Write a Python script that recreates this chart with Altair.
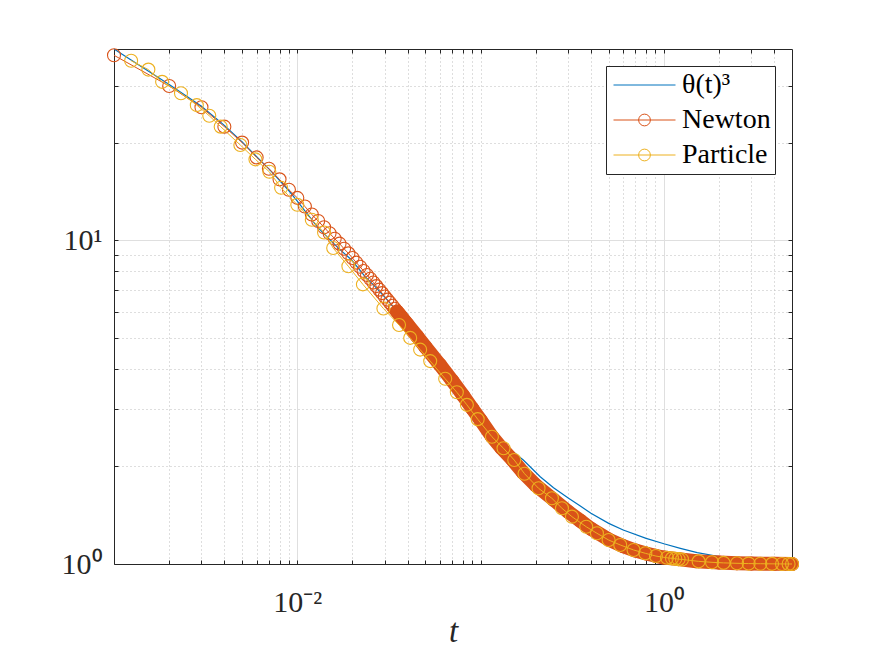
import altair as alt
import pandas as pd

# ---------------- data ----------------
series_names = ["θ(t)\u00b3", "Newton", "Particle"]
series_colors = ["#0072BD", "#D95319", "#EDB120"]

theta_t = [0.001, 0.002, 0.003, 0.004, 0.005, 0.006, 0.007, 0.008, 0.009, 0.010,
           0.013, 0.0168, 0.0198, 0.0235, 0.0266, 0.032, 0.0364, 0.045, 0.0627, 0.0897,
           0.1, 0.113, 0.139, 0.171, 0.2115, 0.25, 0.302, 0.35, 0.40, 0.50, 0.60, 0.80,
           1.0, 1.23, 1.52, 2.03, 3.0, 4.0, 5.0]
theta_y = [38.9, 30.2, 25.9, 22.6, 20.1, 18.1, 16.6, 15.3, 14.2, 13.2,
           10.9, 9.43, 8.68, 7.70, 7.18, 6.4, 5.85, 5.0, 4.0, 3.05,
           2.85, 2.59, 2.30, 2.094, 1.86, 1.72, 1.595, 1.51, 1.434, 1.335, 1.273, 1.20,
           1.155, 1.118, 1.084, 1.053, 1.025, 1.012, 1.006]

newton_t = [0.001, 0.002, 0.003, 0.004, 0.005, 0.006, 0.007, 0.008, 0.009, 0.010,
            0.011, 0.012, 0.013, 0.014, 0.015, 0.016, 0.017, 0.018, 0.019, 0.020,
            0.021, 0.022, 0.023, 0.024, 0.025, 0.026, 0.027, 0.028, 0.029, 0.030,
            0.031, 0.032, 0.033, 0.034, 0.035, 0.036, 0.037, 0.038, 0.039, 0.040,
            0.045, 0.05, 0.06, 0.07, 0.08, 0.09, 0.10, 0.115, 0.13, 0.15, 0.17,
            0.2, 0.25, 0.3, 0.35, 0.4, 0.5, 0.6, 0.7, 0.8, 0.9, 1.0, 1.2, 1.5,
            2.0, 2.5, 3.0, 4.0, 5.0]
newton_y = [37.2, 29.9, 25.7, 22.4, 20.0, 18.0, 16.6, 15.4, 14.3, 13.5,
            12.7, 12.0, 11.45, 10.95, 10.5, 10.1, 9.75, 9.4, 9.1, 8.8,
            8.52, 8.27, 8.03, 7.8, 7.6, 7.4, 7.21, 7.03, 6.86, 6.7,
            6.55, 6.41, 6.27, 6.14, 6.02, 5.9, 5.79, 5.68, 5.58, 5.48,
            5.05, 4.68, 4.12, 3.68, 3.32, 3.02, 2.78, 2.48, 2.28, 2.09, 1.92,
            1.75, 1.58, 1.45, 1.36, 1.285, 1.19, 1.135, 1.10, 1.077, 1.06, 1.047, 1.035, 1.02,
            1.01, 1.005, 1.003, 1.001, 1.0]

particle_t = [0.00124, 0.00154, 0.00183, 0.00232, 0.00283, 0.00331, 0.00382, 0.00489,
              0.00591, 0.00704, 0.00816, 0.0100, 0.0120, 0.0140, 0.0157, 0.0190, 0.0228,
              0.0295, 0.0359, 0.0413, 0.0468, 0.0531, 0.0641, 0.0742, 0.0842, 0.0964,
              0.1153, 0.1334, 0.1526, 0.1737, 0.2071, 0.245, 0.2779, 0.315, 0.3771,
              0.4313, 0.4993, 0.578, 0.683, 0.792, 0.905, 1.04, 1.107, 1.154, 1.203,
              1.256, 1.547, 1.83, 2.118, 2.506, 2.90, 3.36, 3.89, 4.41, 4.79, 5.0]
particle_y = [35.8, 33.6, 30.8, 28.4, 26.1, 24.2, 22.4, 19.65,
              17.75, 16.25, 14.5, 12.85, 11.55, 10.55, 9.45, 8.3, 7.3,
              6.15, 5.47, 4.99, 4.59, 4.23, 3.73, 3.39, 3.1, 2.8,
              2.471, 2.276, 2.094, 1.9, 1.713, 1.595, 1.486, 1.40, 1.303,
              1.244, 1.186, 1.145, 1.105, 1.079, 1.058, 1.045, 1.041, 1.038, 1.035,
              1.033, 1.019, 1.012, 1.008, 1.005, 1.003, 1.002, 1.001, 1.0005, 1.0002, 1.0]

x_ticks = [0.002, 0.003, 0.004, 0.005, 0.006, 0.007, 0.008, 0.009,
           0.01, 0.02, 0.03, 0.04, 0.05, 0.06, 0.07, 0.08, 0.09,
           0.1, 0.2, 0.3, 0.4, 0.5, 0.6, 0.7, 0.8, 0.9, 1, 2, 3, 4]
y_ticks = [1, 2, 3, 4, 5, 6, 7, 8, 9, 10, 20, 30]

theta_df = pd.DataFrame({"t": theta_t, "v": theta_y})
newton_df = pd.DataFrame({"t": newton_t, "v": newton_y})
particle_df = pd.DataFrame({"t": particle_t, "v": particle_y})
legend_df = pd.DataFrame({"series": series_names})

# ---------------- styling ----------------
FONT = "Liberation Serif"
AX = "#262626"
x_scale = alt.Scale(type="log", domain=[0.001, 5], nice=False)
y_scale = alt.Scale(type="log", domain=[1, 38.9], nice=False)

x_major = "datum.value == 0.01 || datum.value == 1"
y_major = "datum.value == 10 || datum.value == 1"

axis_bottom = alt.Axis(
    orient="bottom", values=x_ticks,
    labelExpr="datum.value == 0.01 ? '10\u207b\u00b2' : (datum.value == 1 ? '10\u2070' : '')",
    labelFont=FONT, labelFontSize=30, labelColor=AX, labelPadding=27,
    labelFlush=False, labelOverlap=False,
    grid=True,
    gridDash={"condition": {"test": x_major, "value": []}, "value": [1, 3]},
    gridColor={"condition": {"test": x_major, "value": "#DFDFDF"}, "value": "#BCBCBC"},
    gridWidth=1,
    tickSize={"expr": "-4"}, tickColor=AX, tickWidth=1,
    domainColor=AX, domainWidth=1,
    title="t", titleFont=FONT, titleFontSize=33, titleFontStyle="italic",
    titleFontWeight="normal", titleColor=AX, titleX=339, titleY=77,
    titleBaseline="alphabetic", titleAlign="center",
)
axis_top = alt.Axis(
    orient="top", values=x_ticks, labels=False, grid=False,
    tickSize={"expr": "-4"}, tickColor=AX, tickWidth=1,
    domainColor=AX, domainWidth=1, title=None,
)
axis_left = alt.Axis(
    orient="left", values=y_ticks,
    labelExpr="datum.value == 1 ? '10\u2070' : (datum.value == 10 ? '10\u00b9' : '')",
    labelFont=FONT, labelFontSize=30, labelColor=AX, labelPadding=16,
    labelFlush=False, labelOverlap=False, labelBaseline="middle",
    grid=True,
    gridDash={"condition": {"test": y_major, "value": []}, "value": [1, 3]},
    gridColor={"condition": {"test": y_major, "value": "#DFDFDF"}, "value": "#BCBCBC"},
    gridWidth=1,
    tickSize={"expr": "-4"}, tickColor=AX, tickWidth=1,
    domainColor=AX, domainWidth=1, title=None,
)
axis_right = alt.Axis(
    orient="right", values=y_ticks, labels=False, grid=False,
    tickSize={"expr": "-4"}, tickColor=AX, tickWidth=1,
    domainColor=AX, domainWidth=1, title=None,
)

MARKER_SIZE = 169

theta_layer = alt.Chart(theta_df).mark_line(color=series_colors[0], strokeWidth=1.2).encode(
    x=alt.X("t:Q", scale=x_scale, axis=axis_bottom),
    y=alt.Y("v:Q", scale=y_scale, axis=axis_left),
)

# dense Newton markers merge into a solid band
newton_band = alt.Chart(newton_df).transform_filter("datum.t >= 0.035").mark_line(
    color=series_colors[1], strokeWidth=14, strokeCap="round", strokeJoin="round"
).encode(
    x=alt.X("t:Q", scale=x_scale, axis=axis_top),
    y=alt.Y("v:Q", scale=y_scale, axis=axis_right),
)

newton_line = alt.Chart(newton_df).mark_line(color=series_colors[1], strokeWidth=1).encode(
    x=alt.X("t:Q", scale=x_scale, axis=None),
    y=alt.Y("v:Q", scale=y_scale, axis=None),
)
newton_pts = alt.Chart(newton_df).mark_point(
    shape="circle", filled=False, size=MARKER_SIZE, strokeWidth=1.1,
    color=series_colors[1], opacity=1
).encode(
    x=alt.X("t:Q", scale=x_scale, axis=None),
    y=alt.Y("v:Q", scale=y_scale, axis=None),
)

particle_line = alt.Chart(particle_df).mark_line(color=series_colors[2], strokeWidth=1).encode(
    x=alt.X("t:Q", scale=x_scale, axis=None),
    y=alt.Y("v:Q", scale=y_scale, axis=None),
)
particle_pts = alt.Chart(particle_df).mark_point(
    shape="circle", filled=False, size=MARKER_SIZE, strokeWidth=1.1,
    color=series_colors[2], opacity=1
).encode(
    x=alt.X("t:Q", scale=x_scale, axis=None),
    y=alt.Y("v:Q", scale=y_scale, axis=None),
)

line_only = "M-1,0L1,0"
line_marker = "M-1,0L1,0M0.19,0A0.19,0.19,0,1,1,-0.19,0A0.19,0.19,0,1,1,0.19,0"

legend_spec = alt.Legend(
    title=None, orient="top-right", offset=17,
    fillColor="white", strokeColor=AX, padding=4,
    symbolSize=3844, symbolStrokeWidth=1, symbolOffset=3,
    symbolFillColor="transparent",
    clipHeight=30, rowPadding=5, labelOffset=6,
    labelFont=FONT, labelFontSize=28, labelColor="black", labelLimit=0,
)

legend_layer = alt.Chart(legend_df).transform_filter("false").mark_point(
    filled=False, opacity=1, strokeWidth=1
).encode(
    color=alt.Color("series:N", scale=alt.Scale(domain=series_names, range=series_colors),
                    legend=legend_spec),
    shape=alt.Shape("series:N", scale=alt.Scale(domain=series_names,
                                                range=[line_only, line_marker, line_marker]),
                    legend=legend_spec),
)

chart = alt.layer(
    theta_layer, newton_band, newton_line, newton_pts, particle_line, particle_pts, legend_layer
).resolve_axis(
    x="independent", y="independent"
).properties(
    width=678, height=515,
    autosize=alt.AutoSizeParams(type="none"),
    padding={"left": 106, "top": 41, "right": 60, "bottom": 92},
    background="white",
).configure_view(stroke="transparent")

chart.save("out.html", embed_options={"renderer": "svg", "actions": False})
